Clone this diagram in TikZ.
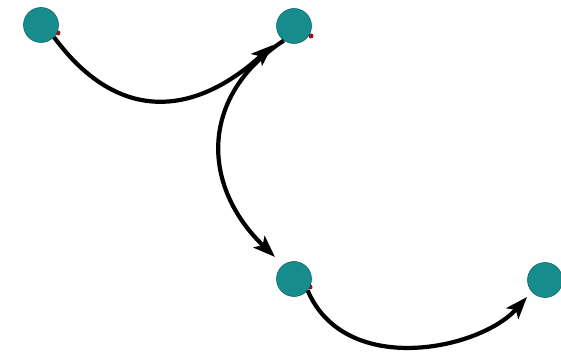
\documentclass[tikz,border=0pt]{standalone}
\usetikzlibrary{arrows.meta}
\definecolor{tealnode}{RGB}{22,140,140}
\definecolor{tealedge}{RGB}{15,105,105}
\definecolor{reddot}{RGB}{150,20,25}
\begin{document}
\begin{tikzpicture}[x=1pt,y=-1pt,
  ball/.style={circle,fill=tealnode,draw=tealedge,line width=0.6pt,minimum size=35pt,inner sep=0pt},
  dot/.style={circle,fill=reddot,inner sep=0pt,minimum size=5pt},
  link/.style={line width=4.2pt,-{Stealth[length=22pt,width=16pt,inset=5pt]}}]
\useasboundingbox (0,0) rectangle (561,352);
\node[dot] (d1) at (58,33) {};
\node[dot] (d2) at (311,36) {};
\node[dot] (d3) at (310,287) {};
\node[ball] (n1) at (41,25) {};
\node[ball] (n2) at (294,26) {};
\node[ball] (n3) at (294,279) {};
\node[ball] (n4) at (545,280) {};
\coordinate (t1) at (273,45);
\coordinate (t2) at (275,257);
\coordinate (t3) at (527,297);
\draw[link] (n2.-125) .. controls (200,95) and (200,185) .. (t2);
\draw[link] (n1.-43) .. controls (115,120) and (190,120) .. (t1);
\draw[link] (n3.-40) .. controls (345,378) and (480,350) .. (t3);
\end{tikzpicture}
\end{document}
